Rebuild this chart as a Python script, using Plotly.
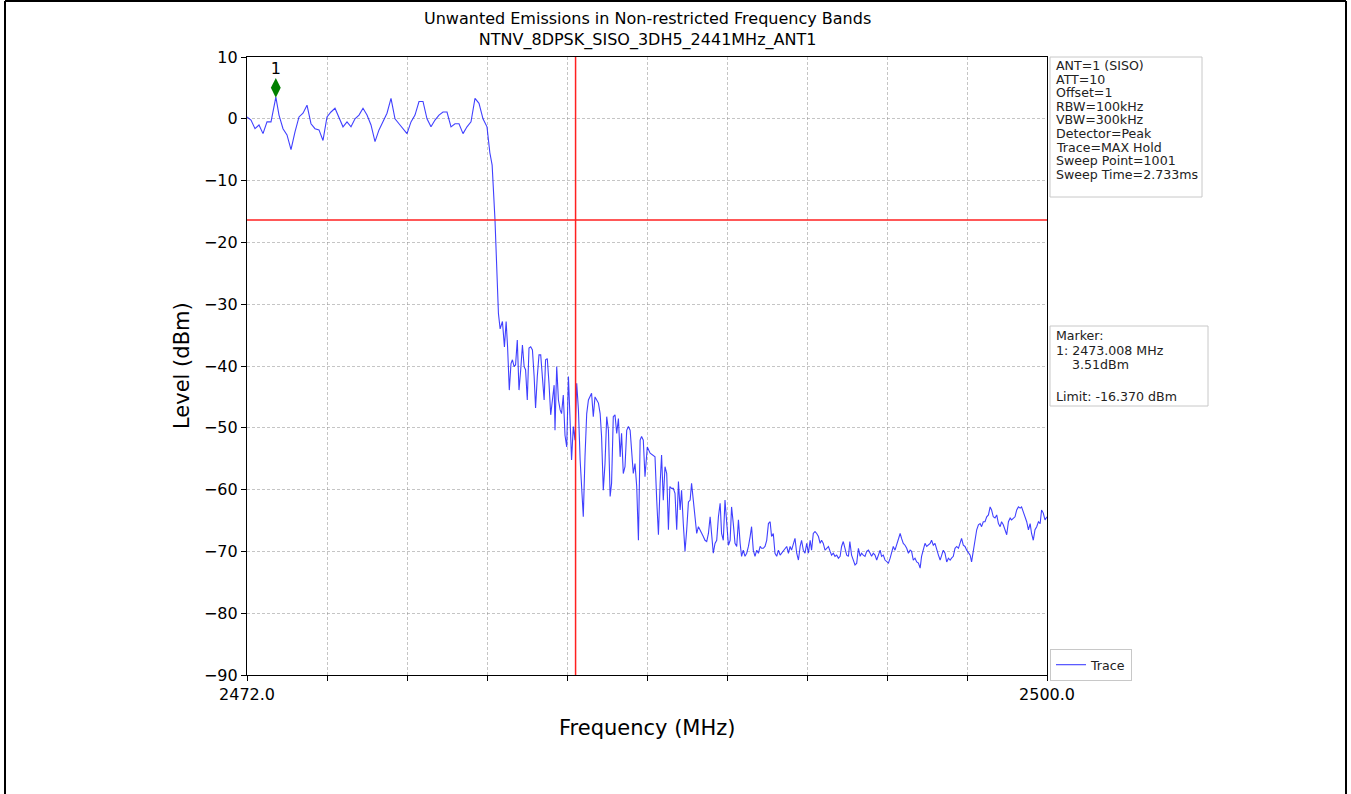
import plotly.graph_objects as go

# ---------------- data ----------------
inband_freq = [
    2472.00, 2472.14, 2472.28, 2472.42, 2472.56, 2472.70, 2472.84, 2473.01, 2473.12, 2473.26,
    2473.40, 2473.54, 2473.68, 2473.82, 2473.96, 2474.10, 2474.24, 2474.38, 2474.52, 2474.66,
    2474.80, 2474.94, 2475.08, 2475.22, 2475.36, 2475.50, 2475.64, 2475.78, 2475.92, 2476.06,
    2476.20, 2476.34, 2476.48, 2476.62, 2476.76, 2476.90, 2477.04, 2477.18, 2477.32, 2477.46,
    2477.60, 2477.74, 2477.88, 2478.02, 2478.16, 2478.30, 2478.44, 2478.58, 2478.72, 2478.86,
    2479.00, 2479.14, 2479.28, 2479.42, 2479.56, 2479.70, 2479.84, 2479.98, 2480.12, 2480.26,
    2480.40,
]
inband_level = [
    0.3, -0.2, -1.6, -1.0, -2.4, -0.5, -0.5, 3.51, 0.6, -1.6,
    -2.6, -5.0, -2.1, 0.3, 0.9, 2.2, -0.8, -1.6, -1.8, -3.5,
    0.3, 1.1, 1.7, 0.3, -1.3, -0.5, -1.3, 0.0, 0.6, 1.7,
    0.6, -1.0, -3.7, -1.8, -0.5, 0.9, 3.3, 0.0, -0.8, -1.6,
    -2.4, -0.5, 0.6, 2.8, 2.8, 0.0, -1.3, -0.2, 0.6, 1.1,
    1.1, -1.3, -0.8, -0.8, -2.4, -1.3, -0.5, 3.3, 2.5, 0.0,
    -1.3,
]

edge_freq = [2480.50, 2480.58, 2480.68, 2480.75, 2480.80, 2480.86]
edge_level = [-5.5, -7.5, -16.4, -24.0, -31.5, -34.0]

rolloff_freq = [
    2480.94, 2481.01, 2481.07, 2481.12, 2481.18, 2481.24, 2481.29, 2481.35, 2481.40, 2481.46,
    2481.52, 2481.58, 2481.64, 2481.70, 2481.75, 2481.81, 2481.87, 2481.93, 2481.99, 2482.05,
    2482.10, 2482.16, 2482.22, 2482.28, 2482.35, 2482.40, 2482.45, 2482.51, 2482.57, 2482.63,
    2482.69, 2482.75, 2482.78, 2482.84, 2482.90, 2482.96, 2483.01, 2483.07, 2483.13, 2483.19,
    2483.25, 2483.31, 2483.36, 2483.42, 2483.48, 2483.54, 2483.60, 2483.66, 2483.71, 2483.77,
    2483.83, 2483.89, 2483.95, 2484.01, 2484.06, 2484.12, 2484.18, 2484.24, 2484.30, 2484.36,
    2484.41, 2484.47, 2484.53, 2484.59, 2484.65, 2484.71, 2484.76, 2484.82, 2484.88, 2484.94,
    2485.00, 2485.06, 2485.11, 2485.17, 2485.23, 2485.29, 2485.35, 2485.41, 2485.46, 2485.52,
    2485.58, 2485.64, 2485.70, 2485.76, 2485.81, 2485.87,
]
rolloff_level = [
    -32.8, -36.9, -32.8, -36.9, -43.9, -39.6, -39.0, -40.1, -39.8, -35.8,
    -43.9, -40.6, -36.6, -40.1, -40.6, -45.5, -37.1, -36.9, -37.4, -41.7,
    -46.8, -41.7, -38.2, -38.2, -42.8, -45.5, -39.0, -38.8, -42.8, -47.9,
    -45.5, -43.1, -50.4, -40.1, -45.5, -47.1, -47.7, -44.7, -51.2, -53.1,
    -41.7, -49.5, -55.2, -49.8, -52.0, -42.8, -47.1, -55.2, -59.5, -64.4,
    -54.7, -47.7, -45.5, -44.7, -44.4, -48.2, -45.0, -45.5, -46.0, -47.7,
    -51.4, -60.1, -55.8, -48.2, -50.4, -61.1, -59.0, -48.2, -47.9, -50.9,
    -48.5, -54.7, -50.9, -57.4, -56.3, -50.4, -49.8, -50.4, -54.1, -57.4,
    -55.8, -59.5, -68.2, -52.0, -51.4, -52.0,
]

tail_freq = [
    2485.93, 2486.01, 2486.11, 2486.22, 2486.28, 2486.34, 2486.40, 2486.46, 2486.51, 2486.57,
    2486.63, 2486.69, 2486.75, 2486.80, 2486.86, 2486.92, 2486.98, 2487.04, 2487.10, 2487.16,
    2487.21, 2487.27, 2487.33, 2487.39, 2487.45, 2487.51, 2487.56, 2487.62, 2487.68, 2487.74,
    2487.80, 2487.86, 2487.91, 2487.97, 2488.03, 2488.09, 2488.15, 2488.21, 2488.26, 2488.32,
    2488.38, 2488.44, 2488.50, 2488.56, 2488.61, 2488.67, 2488.73, 2488.79, 2488.85, 2488.91,
    2488.96, 2489.02, 2489.08, 2489.14, 2489.20, 2489.26, 2489.31, 2489.37, 2489.43, 2489.49,
    2489.55, 2489.61, 2489.66, 2489.72, 2489.78, 2489.84, 2489.90, 2489.96, 2490.01, 2490.07,
    2490.13, 2490.19, 2490.25, 2490.31, 2490.36, 2490.42, 2490.48, 2490.54, 2490.60, 2490.66,
    2490.71, 2490.77, 2490.89, 2490.95, 2491.01, 2491.06, 2491.12, 2491.18, 2491.24, 2491.30,
    2491.36, 2491.41, 2491.47, 2491.53, 2491.59, 2491.65, 2491.71, 2491.76, 2491.82, 2491.88,
    2491.94, 2492.00, 2492.06, 2492.11, 2492.17, 2492.23, 2492.29, 2492.35, 2492.41, 2492.46,
    2492.52, 2492.58, 2492.64, 2492.70, 2492.76, 2492.81, 2492.87, 2492.93, 2492.99, 2493.05,
]
tail_level = [
    -57.9, -53.1, -54.1, -54.4, -54.7, -61.7, -67.3, -59.0, -54.4, -61.7,
    -56.3, -57.4, -66.5, -59.5, -59.8, -59.8, -60.6, -66.5, -58.7, -63.3,
    -60.1, -65.5, -70.0, -66.5, -62.0, -61.7, -59.0, -61.7, -64.4, -67.1,
    -66.0, -66.5, -67.1, -67.6, -68.2, -68.4, -67.1, -64.4, -67.1, -70.3,
    -68.7, -68.2, -64.4, -62.2, -67.1, -68.2, -61.7, -66.0, -69.0, -68.2,
    -62.8, -65.5, -68.7, -69.2, -64.9, -68.7, -70.8, -69.8, -70.8, -70.3,
    -69.2, -67.6, -66.0, -69.8, -70.8, -69.8, -70.3, -69.2, -69.5, -69.5,
    -69.2, -68.2, -65.5, -65.2, -67.6, -67.1, -70.3, -70.8, -69.8, -70.6,
    -70.3, -69.8, -69.2, -70.3, -69.2, -69.8, -68.7, -67.9, -70.3, -71.4,
    -69.2, -68.2, -69.8, -70.3, -68.7, -70.3, -68.2, -69.8, -67.1, -66.8,
    -67.1, -67.6, -68.7, -68.2, -68.7, -69.8, -69.5, -69.2, -70.0, -70.6,
    -70.3, -70.8, -70.6, -71.1, -70.8, -69.2, -68.4, -69.8, -70.6, -70.8,
]

floor_freq = [
    2493.10, 2493.16, 2493.22, 2493.28, 2493.34, 2493.40, 2493.46, 2493.51, 2493.57, 2493.63,
    2493.69, 2493.75, 2493.81, 2493.86, 2493.92, 2493.98, 2494.04, 2494.10, 2494.16, 2494.21,
    2494.27, 2494.33, 2494.39, 2494.45, 2494.51, 2494.56, 2494.62, 2494.68, 2494.74, 2494.80,
    2494.86, 2494.91, 2494.97, 2495.03, 2495.09, 2495.15, 2495.21, 2495.26, 2495.32, 2495.38,
    2495.44, 2495.50, 2495.56, 2495.61, 2495.67, 2495.73, 2495.79, 2495.85, 2495.91, 2495.96,
    2496.02, 2496.08, 2496.14, 2496.20, 2496.26, 2496.31, 2496.37, 2496.43, 2496.49, 2496.55,
    2496.61, 2496.66, 2496.72, 2496.78, 2496.84, 2496.90, 2496.96, 2497.01, 2497.07, 2497.13,
    2497.19, 2497.25, 2497.31, 2497.36, 2497.42, 2497.48, 2497.54, 2497.60, 2497.66, 2497.71,
    2497.77, 2497.83, 2497.89, 2497.95, 2498.01, 2498.06, 2498.12, 2498.18, 2498.24, 2498.30,
    2498.36, 2498.41, 2498.47, 2498.53, 2498.59, 2498.65, 2498.71, 2498.76, 2498.82, 2498.88,
    2498.94, 2499.00, 2499.06, 2499.11, 2499.17, 2499.23, 2499.29, 2499.35, 2499.41, 2499.46,
    2499.52, 2499.58, 2499.64, 2499.70, 2499.76, 2499.81, 2499.87, 2499.93, 2500.00,
]
floor_level = [
    -68.4, -70.6, -71.4, -72.2, -71.9, -69.5, -70.8, -70.3, -70.6, -70.8,
    -70.0, -69.8, -70.3, -70.8, -70.3, -70.6, -71.4, -70.6, -69.8, -70.8,
    -70.6, -71.4, -71.7, -71.9, -71.1, -70.0, -69.2, -69.8, -68.9, -68.2,
    -67.1, -67.9, -68.7, -69.0, -69.5, -70.3, -69.8, -70.0, -71.4, -71.1,
    -71.7, -71.9, -72.7, -70.8, -69.5, -68.7, -69.2, -69.0, -68.7, -68.2,
    -69.0, -68.7, -69.8, -70.6, -71.4, -70.8, -69.8, -70.3, -71.7, -71.1,
    -71.4, -71.1, -70.8, -69.5, -69.2, -69.5, -68.4, -67.9, -69.0, -69.2,
    -69.8, -70.3, -70.6, -71.7, -69.8, -67.6, -66.5, -65.7, -65.5, -66.0,
    -65.2, -65.2, -64.4, -64.1, -62.8, -63.3, -64.4, -64.6, -64.1, -65.5,
    -66.0, -65.2, -65.7, -66.5, -67.3, -65.2, -64.6, -64.9, -64.6, -64.4,
    -63.3, -62.8, -63.0, -62.8, -63.6, -64.4, -65.2, -66.5, -65.5, -67.1,
    -68.2, -66.5, -66.0, -65.2, -65.5, -63.3, -63.8, -64.9, -64.4,
]

freq_mhz = inband_freq + edge_freq + rolloff_freq + tail_freq + floor_freq
level_dbm = inband_level + edge_level + rolloff_level + tail_level + floor_level

limit_dbm = -16.370
band_edge_mhz = 2483.5
marker_freq = 2473.008
marker_level = 3.51

x_tick_vals = [2472.0, 2474.8, 2477.6, 2480.4, 2483.2, 2486.0, 2488.8, 2491.6, 2494.4, 2497.2, 2500.0]
x_tick_text = ["2472.0", "", "", "", "", "", "", "", "", "", "2500.0"]
y_tick_vals = [10, 0, -10, -20, -30, -40, -50, -60, -70, -80, -90]

title_lines = ["Unwanted Emissions in Non-restricted Frequency Bands",
               "NTNV_8DPSK_SISO_3DH5_2441MHz_ANT1"]
settings_lines = ["ANT=1 (SISO)", "ATT=10", "Offset=1", "RBW=100kHz", "VBW=300kHz",
                  "Detector=Peak", "Trace=MAX Hold", "Sweep Point=1001", "Sweep Time=2.733ms"]
marker_lines = ["Marker:", "1: 2473.008 MHz", "&nbsp;&nbsp;&nbsp;&nbsp;3.51dBm", "Limit: -16.370 dBm"]

# ---------------- layout geometry (pixels) ----------------
W, H = 1351, 794
PL, PR, PT, PB = 247, 1047, 57, 675
FONT = "DejaVu Sans"
BOX_FONT = 12.6


def px_x(px):
    return (px - PL) / (PR - PL)


def px_y(py):
    return (PB - py) / (PB - PT)


fig = go.Figure()

fig.add_trace(go.Scatter(
    x=freq_mhz, y=level_dbm, mode="lines", name="Trace",
    line=dict(color="rgba(0,0,255,0.75)", width=1.1),
))

marker_offset = 1.5  # drawn just above the peak, as in the reference
fig.add_trace(go.Scatter(
    x=[marker_freq], y=[marker_level + marker_offset], mode="markers+text",
    text=["1"], textposition="top center",
    textfont=dict(family=FONT, size=16, color="black"),
    marker=dict(symbol="diamond-tall", size=14, color="#008000"),
    showlegend=False, hoverinfo="skip",
))

fig.add_hline(y=limit_dbm, line=dict(color="#ff2020", width=1.5))
fig.add_vline(x=band_edge_mhz, line=dict(color="#ff2020", width=1.5))

annotations = []

# title
annotations.append(dict(text=title_lines[0] + "<br>" + title_lines[1], xref="paper", yref="paper",
                        x=0.5, y=px_y(29), xanchor="center", yanchor="middle", showarrow=False,
                        font=dict(family=FONT, size=16, color="black")))
# axis titles
annotations.append(dict(text="Frequency (MHz)", xref="paper", yref="paper", x=0.5, y=px_y(728),
                        xanchor="center", yanchor="middle", showarrow=False,
                        font=dict(family=FONT, size=21, color="black")))
annotations.append(dict(text="Level (dBm)", xref="paper", yref="paper", x=px_x(182), y=px_y(366),
                        xanchor="center", yanchor="middle", showarrow=False, textangle=-90,
                        font=dict(family=FONT, size=21, color="black")))

# settings box
fig.add_shape(type="rect", xref="paper", yref="paper", x0=px_x(1050), x1=px_x(1202),
              y0=px_y(197), y1=px_y(57), line=dict(color="#c8c8c8", width=1),
              fillcolor="white", layer="below")
for k, t in enumerate(settings_lines):
    annotations.append(dict(text=t, xref="paper", yref="paper", x=px_x(1054), y=px_y(65.5 + 13.6 * k),
                            xanchor="left", yanchor="middle", showarrow=False,
                            font=dict(family=FONT, size=BOX_FONT, color="#222")))

# marker box
fig.add_shape(type="rect", xref="paper", yref="paper", x0=px_x(1050), x1=px_x(1208),
              y0=px_y(406), y1=px_y(326), line=dict(color="#c8c8c8", width=1),
              fillcolor="white", layer="below")
for t, yy in zip(marker_lines, [335, 350, 364.5, 396]):
    annotations.append(dict(text=t, xref="paper", yref="paper", x=px_x(1054), y=px_y(yy),
                            xanchor="left", yanchor="middle", showarrow=False,
                            font=dict(family=FONT, size=BOX_FONT, color="#222")))

# outer frame of the picture
for (xa, ya, xb, yb) in [(5, 794, 5, 1), (5, 1, 1346, 1), (1346, 794, 1346, 1)]:
    fig.add_shape(type="line", xref="paper", yref="paper", x0=px_x(xa), x1=px_x(xb),
                  y0=px_y(ya), y1=px_y(yb), line=dict(color="black", width=2))

axis_common = dict(
    showline=True, mirror=True, linecolor="black", linewidth=1.2,
    ticks="outside", ticklen=5, tickcolor="black", tickwidth=1,
    showgrid=True, gridcolor="rgba(140,140,140,0.5)", griddash="3px,2px", gridwidth=0.8,
    zeroline=False, tickfont=dict(family=FONT, size=16, color="black"),
)

fig.update_layout(
    width=W, height=H,
    margin=dict(l=PL, r=W - PR, t=PT, b=H - PB),
    paper_bgcolor="white", plot_bgcolor="white",
    xaxis=dict(range=[2472, 2500], tickmode="array", tickvals=x_tick_vals, ticktext=x_tick_text,
               **axis_common),
    yaxis=dict(range=[-90, 10], tickmode="array", tickvals=y_tick_vals, **axis_common),
    showlegend=True,
    legend=dict(x=px_x(1050), y=px_y(649), xanchor="left", yanchor="top",
                bordercolor="#c8c8c8", borderwidth=1, bgcolor="white",
                font=dict(family=FONT, size=BOX_FONT, color="#222"), itemwidth=30),
    annotations=annotations,
    font=dict(family=FONT),
)

fig.write_html("out.html", config={"displayModeBar": False},
               post_script="document.body.style.margin='0';")
